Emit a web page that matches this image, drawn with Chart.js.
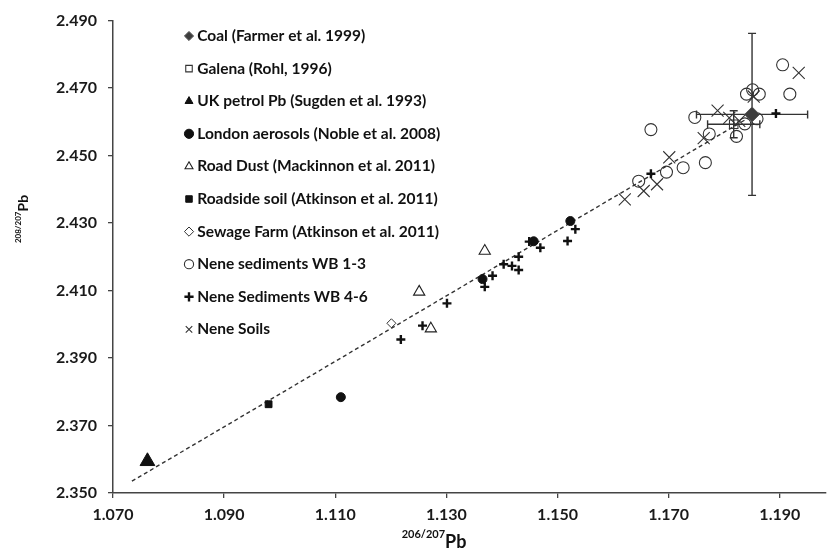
<!DOCTYPE html>
<html><head><meta charset="utf-8">
<script src="https://cdn.jsdelivr.net/npm/chart.js@4.4.0/dist/chart.umd.min.js"></script>
<style>html,body{margin:0;padding:0;background:#fff;} #wrap{width:835px;height:552px;position:relative;}</style>
</head><body><div id="wrap"><canvas id="c" width="835" height="552"></canvas></div>
<script>
// ---- data ----
const xTickValues = [1.070, 1.090, 1.110, 1.130, 1.150, 1.170, 1.190];
const yTickValues = [2.350, 2.370, 2.390, 2.410, 2.430, 2.450, 2.470, 2.490];
const xAxisSup = '206/207';
const yAxisSup = '208/207';
const axisElement = 'Pb';

const seriesLabels = [
  'Coal (Farmer et al. 1999)',
  'Galena (Rohl, 1996)',
  'UK petrol Pb (Sugden et al. 1993)',
  'London aerosols (Noble et al. 2008)',
  'Road Dust (Mackinnon et al. 2011)',
  'Roadside soil (Atkinson et al. 2011)',
  'Sewage Farm (Atkinson et al. 2011)',
  'Nene sediments WB 1-3',
  'Nene Sediments WB 4-6',
  'Nene Soils'
];

const coalX = [1.1850];
const coalY = [2.4622];
const coalXErr = [0.0100];
const coalYErr = [0.0240];

const galenaX = [1.1817];
const galenaY = [2.4593];
const galenaXErr = [0.0047];
const galenaYErr = [0.0040];

const petrolX = [1.0762];
const petrolY = [2.3594];

const londonX = [1.1110, 1.1365, 1.1457, 1.1523];
const londonY = [2.3784, 2.4134, 2.4246, 2.4306];

const roadDustX = [1.1251, 1.1272, 1.1369];
const roadDustY = [2.4096, 2.3987, 2.4217];

const roadsideX = [1.0980];
const roadsideY = [2.3763];

const sewageX = [1.1201];
const sewageY = [2.4003];

const wb13X = [1.1668, 1.1646, 1.1696, 1.1726, 1.1766, 1.1773, 1.1747, 1.1822, 1.1837, 1.1859, 1.1840, 1.1851, 1.1863, 1.1905, 1.1918];
const wb13Y = [2.4577, 2.4424, 2.4451, 2.4464, 2.4479, 2.4564, 2.4613, 2.4557, 2.4594, 2.4609, 2.4682, 2.4695, 2.4682, 2.4769, 2.4682];

const wb46X = [1.1218, 1.1257, 1.1301, 1.1369, 1.1383, 1.1403, 1.1418, 1.1430, 1.1430, 1.1449, 1.1469, 1.1518, 1.1532, 1.1668, 1.1893];
const wb46Y = [2.3955, 2.3996, 2.4062, 2.4111, 2.4144, 2.4178, 2.4173, 2.4200, 2.4161, 2.4245, 2.4227, 2.4247, 2.4282, 2.4446, 2.4625];

const soilsX = [1.1621, 1.1655, 1.1679, 1.1701, 1.1763, 1.1788, 1.1853, 1.1809, 1.1827, 1.1934];
const soilsY = [2.4370, 2.4395, 2.4415, 2.4495, 2.4552, 2.4633, 2.4675, 2.4612, 2.4603, 2.4745];

const trendX = [1.0734, 1.1850];
const trendY = [2.3535, 2.4618];

// ---- helpers ----
const pts = (xs, ys) => xs.map((v, i) => ({x: v, y: ys[i]}));
const INK = '#111111';
const NONE = 'rgba(0,0,0,0)';

function ds(label, xs, ys, style, extra) {
  return Object.assign({
    type: 'scatter', label: label, data: pts(xs, ys),
    pointStyle: style.shape, pointRadius: style.r, pointHoverRadius: style.r,
    backgroundColor: style.fill, borderColor: style.stroke, borderWidth: style.w,
    pointBackgroundColor: style.fill, pointBorderColor: style.stroke, pointBorderWidth: style.w
  }, extra || {});
}

const datasets = [
  ds(seriesLabels[0], coalX, coalY, {shape: 'rectRot', r: 7.5, fill: '#3d3d3d', stroke: '#5a5a5a', w: 1}, {errX: coalXErr, errY: coalYErr, order: 0}),
  ds(seriesLabels[1], galenaX, galenaY, {shape: 'rect', r: 6, fill: NONE, stroke: '#333', w: 1.1}, {errX: galenaXErr, errY: galenaYErr, order: 1}),
  ds(seriesLabels[2], petrolX, petrolY, {shape: 'triangle', r: 8.5, fill: INK, stroke: INK, w: 1}, {order: 2}),
  ds(seriesLabels[3], londonX, londonY, {shape: 'circle', r: 4.5, fill: INK, stroke: INK, w: 1}, {order: 3}),
  ds(seriesLabels[4], roadDustX, roadDustY, {shape: 'triangle', r: 6.5, fill: NONE, stroke: '#222', w: 1.1}, {order: 4}),
  ds(seriesLabels[5], roadsideX, roadsideY, {shape: 'rect', r: 4.8, fill: INK, stroke: INK, w: 1}, {order: 5}),
  ds(seriesLabels[6], sewageX, sewageY, {shape: 'rectRot', r: 4.5, fill: NONE, stroke: '#333', w: 1}, {order: 6}),
  ds(seriesLabels[7], wb13X, wb13Y, {shape: 'circle', r: 6, fill: NONE, stroke: '#333', w: 1.1}, {order: 7}),
  ds(seriesLabels[8], wb46X, wb46Y, {shape: 'cross', r: 4.5, fill: INK, stroke: INK, w: 2.4}, {order: 8}),
  ds(seriesLabels[9], soilsX, soilsY, {shape: 'crossRot', r: 8.5, fill: NONE, stroke: '#333', w: 1.1}, {order: 9}),
  {
    type: 'line', label: 'trend', data: pts(trendX, trendY), borderColor: '#333', borderWidth: 1.4,
    borderDash: [4, 3], pointRadius: 0, fill: false, showLine: true, order: 10, isTrend: true
  }
];

// error bars plugin (drawn through the chart scales)
const errorBars = {
  id: 'errorBars',
  beforeDatasetsDraw(chart) {
    const {ctx, scales: {x, y}} = chart;
    ctx.save();
    ctx.strokeStyle = '#333';
    ctx.lineWidth = 1.4;
    chart.data.datasets.forEach(d => {
      if (!d.errX) return;
      d.data.forEach((p, j) => {
        const cx = x.getPixelForValue(p.x), cy = y.getPixelForValue(p.y);
        const xl = x.getPixelForValue(p.x - d.errX[j]), xr = x.getPixelForValue(p.x + d.errX[j]);
        const yt = y.getPixelForValue(p.y + d.errY[j]), yb = y.getPixelForValue(p.y - d.errY[j]);
        const cap = 4;
        ctx.beginPath();
        ctx.moveTo(xl, cy); ctx.lineTo(xr, cy);
        ctx.moveTo(xl, cy - cap); ctx.lineTo(xl, cy + cap);
        ctx.moveTo(xr, cy - cap); ctx.lineTo(xr, cy + cap);
        ctx.moveTo(cx, yt); ctx.lineTo(cx, yb);
        ctx.moveTo(cx - cap, yt); ctx.lineTo(cx + cap, yt);
        ctx.moveTo(cx - cap, yb); ctx.lineTo(cx + cap, yb);
        ctx.stroke();
      });
    });
    ctx.restore();
  }
};

// axis titles with superscript isotopes
const axisTitles = {
  id: 'axisTitles',
  afterDraw(chart) {
    const {ctx} = chart;
    ctx.save();
    ctx.fillStyle = '#111';
    ctx.textBaseline = 'alphabetic';
    ctx.textAlign = 'left';
    // x title
    ctx.font = 'bold 11px Lato';
    const supW = ctx.measureText(xAxisSup).width;
    ctx.font = 'bold 18px Lato';
    const pbW = ctx.measureText(axisElement).width;
    let sx = 434 - (supW + pbW) / 2;
    ctx.font = 'bold 11px Lato';
    ctx.fillText(xAxisSup, sx, 538);
    ctx.font = 'bold 18px Lato';
    ctx.fillText(axisElement, sx + supW, 548);
    // y title (rotated)
    ctx.translate(28, 219);
    ctx.rotate(-Math.PI / 2);
    ctx.font = 'bold 8px Lato';
    const s2 = ctx.measureText(yAxisSup).width;
    ctx.font = 'bold 14px Lato';
    const p2 = ctx.measureText(axisElement).width;
    const st = -(s2 + p2) / 2;
    ctx.font = 'bold 8px Lato';
    ctx.fillText(yAxisSup, st, -7);
    ctx.font = 'bold 14px Lato';
    ctx.fillText(axisElement, st + s2, 0);
    ctx.restore();
  }
};

// move the legend into its place inside the plot
const LEGEND_PAD = 17.1;
const LEGEND_FONT = 15.5;
const legendPlace = {
  id: 'legendPlace',
  afterLayout(chart) {
    const lg = chart.legend;
    if (!lg) return;
    lg.left = 189 - 0.5 - LEGEND_PAD;
    lg.top = 36 - LEGEND_FONT / 2 - LEGEND_PAD;
    lg.right = lg.left + 420;
    lg.bottom = 540;
    lg.width = 420;
  }
};

new Chart(document.getElementById('c'), {
  type: 'scatter',
  data: {datasets: datasets},
  options: {
    responsive: false,
    animation: false,
    devicePixelRatio: 1,
    layout: {padding: {top: 19, left: 0, right: 0, bottom: 0}},
    plugins: {
      tooltip: {enabled: false},
      legend: {
        display: true,
        position: 'chartArea',
        align: 'start',
        labels: {
          usePointStyle: true,
          boxWidth: 1,
          boxHeight: 6.5,
          padding: LEGEND_PAD,
          color: '#111',
          font: {family: 'Lato', weight: 'bold', size: LEGEND_FONT},
          filter: (item, data) => !data.datasets[item.datasetIndex].isTrend
        }
      }
    },
    scales: {
      x: {
        type: 'linear', min: 1.07, max: 1.1982,
        afterBuildTicks: s => { s.ticks = xTickValues.map(v => ({value: v})); },
        afterFit: s => { s.height = 59; },
        grid: {drawOnChartArea: false, drawTicks: true, tickLength: 5, color: '#444', lineWidth: 1.3},
        border: {display: true, color: '#444', width: 1.5},
        ticks: {
          color: '#1a1a1a', padding: 7, maxRotation: 0, autoSkip: false,
          font: {family: 'Lato', weight: 'bold', size: 16},
          callback: v => Number(v).toFixed(3)
        }
      },
      y: {
        type: 'linear', min: 2.35, max: 2.49,
        afterBuildTicks: s => { s.ticks = yTickValues.map(v => ({value: v})); },
        afterFit: s => { s.width = 113; },
        grid: {drawOnChartArea: false, drawTicks: true, tickLength: 5, color: '#444', lineWidth: 1.3},
        border: {display: true, color: '#444', width: 1.5},
        ticks: {
          color: '#1a1a1a', padding: 11, autoSkip: false,
          font: {family: 'Lato', weight: 'bold', size: 16},
          callback: v => Number(v).toFixed(3)
        }
      }
    }
  },
  plugins: [errorBars, axisTitles, legendPlace]
});
</script></body></html>
